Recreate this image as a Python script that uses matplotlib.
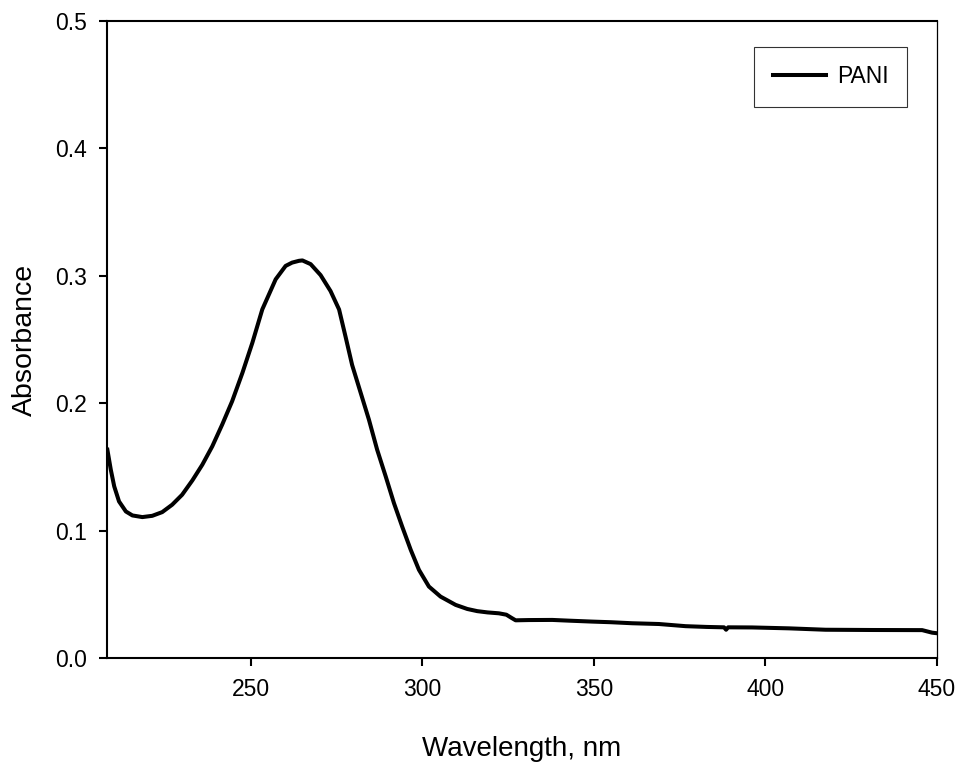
import matplotlib
matplotlib.use("Agg")
import matplotlib.pyplot as plt
import numpy as np

plt.rcParams['font.family'] = ['Liberation Sans', 'DejaVu Sans']

# UV-vis spectrum of PANI
wavelength = [208.1, 209.1, 210.1, 211.5, 213.5, 215.4, 218.3, 221.2, 224.1,
              227.0, 229.9, 232.9, 235.8, 238.7, 241.6, 244.5, 247.5, 250.4,
              253.3, 257.2, 260.1, 262.0, 264.0, 265.0, 267.4, 270.3, 273.2,
              275.7, 277.6, 279.5, 282.0, 284.4, 286.8, 289.3, 291.7, 294.1,
              296.6, 299.0, 301.9, 305.3, 309.7, 313.1, 316.0, 319.0, 322.3,
              324.5, 326.0, 327.2, 331.0, 337.9, 343.0, 349.5, 355.0, 361.2,
              369.0, 376.8, 383.0, 388.0, 388.6, 389.2, 396.2, 406.9, 417.6,
              431.2, 445.8, 448.7, 450.0]
absorbance = [0.1635, 0.1478, 0.1347, 0.1229, 0.1150, 0.1119, 0.1106, 0.1116, 0.1145,
              0.1203, 0.1281, 0.1394, 0.1517, 0.1661, 0.1832, 0.2015, 0.2238, 0.2474,
              0.2736, 0.2972, 0.3077, 0.3103, 0.3117, 0.3120, 0.3091, 0.3005, 0.2880,
              0.2735, 0.2520, 0.2300, 0.2081, 0.1871, 0.1635, 0.1425, 0.1216, 0.1032,
              0.0849, 0.0692, 0.0561, 0.0482, 0.0417, 0.0385, 0.0368, 0.0358, 0.0351,
              0.0340, 0.0315, 0.0296, 0.0298, 0.0299, 0.0293, 0.0286, 0.0281, 0.0273,
              0.0267, 0.0250, 0.0244, 0.0241, 0.0222, 0.0241, 0.0240, 0.0233, 0.0222,
              0.0220, 0.0219, 0.0199, 0.0195]

fig = plt.figure(figsize=(9.59, 7.64), dpi=100)
ax = fig.add_axes([0.1116, 0.1387, 0.865, 0.834])

ax.plot(wavelength, absorbance, color='black', lw=2.9, label='PANI',
        solid_joinstyle='round')

ax.set_xlim(208, 450)
ax.set_ylim(0, 0.5)
ax.set_xticks([250, 300, 350, 400, 450])
ax.set_yticks([0.0, 0.1, 0.2, 0.3, 0.4, 0.5])
ax.set_yticklabels(['0.0', '0.1', '0.2', '0.3', '0.4', '0.5'])
ax.tick_params(direction='out', length=6, width=1.5, labelsize=16.5, pad=8.5)

for side in ['left', 'bottom', 'top']:
    ax.spines[side].set_linewidth(1.5)
ax.spines['right'].set_linewidth(0.9)

ax.set_xlabel('Wavelength, nm', fontsize=20, labelpad=25)
ax.set_ylabel('Absorbance', fontsize=20.5, labelpad=12)

leg = ax.legend(loc='upper right', bbox_to_anchor=(0.964, 0.959), borderaxespad=0,
                fontsize=16.5, frameon=True, fancybox=False, edgecolor='black',
                handlelength=2.35, borderpad=0.8, handletextpad=0.45)
leg.get_frame().set_linewidth(0.8)

plt.savefig('out.png', dpi=100)
